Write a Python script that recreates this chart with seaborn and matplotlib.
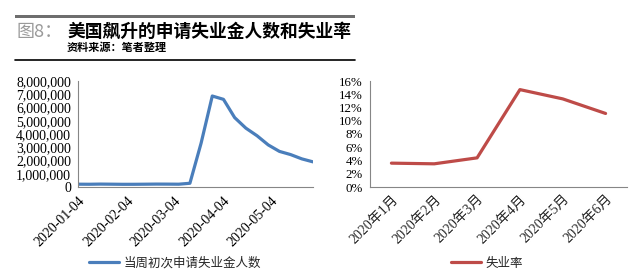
import numpy as np
import pandas as pd
import matplotlib
matplotlib.use('Agg')
import matplotlib.pyplot as plt
import matplotlib.dates as mdates
import matplotlib.ticker as mticker
from matplotlib.lines import Line2D
from matplotlib.patches import Rectangle
import seaborn as sns

# ---------------- data ----------------
claim_dates = ['2020-01-04', '2020-01-11', '2020-01-18', '2020-01-25', '2020-02-01',
               '2020-02-08', '2020-02-15', '2020-02-22', '2020-02-29', '2020-03-07',
               '2020-03-14', '2020-03-21', '2020-03-28', '2020-04-04', '2020-04-11',
               '2020-04-18', '2020-04-25', '2020-05-02', '2020-05-09', '2020-05-16',
               '2020-05-23', '2020-05-30']
claims = [212000, 207000, 220000, 212000, 203000, 204000, 211000, 220000, 217000,
          211000, 282000, 3307000, 6867000, 6615000, 5237000, 4442000, 3867000,
          3176000, 2687000, 2446000, 2123000, 1897000]
claims_label = '当周初次申请失业金人数'

months = ['2020年1月', '2020年2月', '2020年3月', '2020年4月', '2020年5月', '2020年6月']
unemployment_rate = [3.6, 3.5, 4.4, 14.7, 13.3, 11.1]
rate_label = '失业率'

title_prefix = '图8：'
title_text = '美国飙升的申请失业金人数和失业率'
source_text = '资料来源：笔者整理'

blue = '#4a7ebb'
red = '#be4b48'
axis_gray = '#868686'

# ---------------- style ----------------
sns.set_style('white')
plt.rcParams['font.family'] = ['Liberation Serif', 'Noto Sans CJK SC']
plt.rcParams['axes.unicode_minus'] = False

W, H = 640, 279
fig = plt.figure(figsize=(W / 100, H / 100), dpi=100)

def fx(px):
    return px / W

def fy(py):
    return 1 - py / H

# ---------------- left chart ----------------
df1 = pd.DataFrame({'date': pd.to_datetime(claim_dates), 'claims': claims})
ax1 = fig.add_axes([fx(78), fy(187), fx(313) - fx(78), fy(81) - fy(187)])
sns.lineplot(data=df1, x='date', y='claims', ax=ax1, color=blue, linewidth=2.3,
             label=claims_label)
ax1.set_xlim(df1['date'].iloc[0], df1['date'].iloc[-1])
ax1.set_ylim(0, 8000000)
ax1.yaxis.set_major_locator(mticker.MultipleLocator(1000000))
ax1.yaxis.set_major_formatter(mticker.StrMethodFormatter('{x:,.0f}'))
ax1.xaxis.set_major_locator(mdates.MonthLocator(bymonthday=4))
ax1.xaxis.set_major_formatter(mdates.DateFormatter('%Y-%m-%d'))
ax1.set_xlabel('')
ax1.set_ylabel('')

# ---------------- right chart ----------------
df2 = pd.DataFrame({'month': months, 'rate': unemployment_rate})
ax2 = fig.add_axes([fx(370), fy(187), fx(627) - fx(370), fy(81) - fy(187)])
sns.lineplot(data=df2, x='month', y='rate', ax=ax2, color=red, linewidth=2.3,
             label=rate_label, sort=False)
ax2.set_xlim(-0.5, len(months) - 0.5)
ax2.set_ylim(0, 16)
ax2.yaxis.set_major_locator(mticker.MultipleLocator(2))
ax2.yaxis.set_major_formatter(mticker.PercentFormatter(xmax=100, decimals=0))
ax2.xaxis.set_major_locator(mticker.FixedLocator(np.arange(len(months) + 1) - 0.5))
ax2.xaxis.set_major_formatter(mticker.NullFormatter())
ax2.xaxis.set_minor_locator(mticker.FixedLocator(np.arange(len(months))))
ax2.xaxis.set_minor_formatter(mticker.FixedFormatter(months))
ax2.set_xlabel('')
ax2.set_ylabel('')

for ax, fs in ((ax1, 10), (ax2, 9.3)):
    for s in ('top', 'right'):
        ax.spines[s].set_visible(False)
    for s in ('left', 'bottom'):
        ax.spines[s].set_color(axis_gray)
        ax.spines[s].set_linewidth(0.8)
    ax.tick_params(axis='both', which='major', direction='out', length=3, width=0.8,
                   color=axis_gray, labelsize=fs, pad=2, labelcolor='black')
    ax.tick_params(axis='x', which='minor', length=0, labelsize=10, pad=4)
    ax.grid(False)
    ax.set_facecolor('white')

plt.setp(ax1.get_xticklabels(), rotation=45, ha='right', rotation_mode='anchor')
for lab in ax1.get_xticklabels():
    lab.set_fontsize(10)
plt.setp(ax2.get_xticklabels(minor=True), rotation=45, ha='right', rotation_mode='anchor')

# ---------------- legends ----------------
for ax, cx in ((ax1, 175), (ax2, 487)):
    h, l = ax.get_legend_handles_labels()
    ax.legend(h, l, loc='center', bbox_to_anchor=(fx(cx), fy(263)),
              bbox_transform=fig.transFigure, frameon=False,
              prop={'family': ['Noto Sans CJK SC'], 'size': 9},
              handlelength=2.4, handletextpad=0.3, borderpad=0)

# ---------------- header ----------------
fig.add_artist(Rectangle((fx(15), fy(17.5)), fx(355) - fx(15), fy(14.5) - fy(17.5),
                         transform=fig.transFigure, facecolor='#6e6e6e',
                         edgecolor='none', linewidth=0, zorder=5))
fig.add_artist(Line2D([fx(15), fx(355)], [fy(60), fy(60)], color='black',
                      linewidth=1.2))
fig.text(fx(17), fy(32), title_prefix, color='#9a9a9a', fontsize=13,
         fontweight='medium', family=['Noto Sans CJK SC'], va='center', ha='left')
fig.text(fx(67), fy(32), title_text, color='black', fontsize=12.8,
         fontweight='bold', family=['Noto Sans CJK SC'], va='center', ha='left')
fig.text(fx(67), fy(47.5), source_text, color='black', fontsize=8,
         fontweight='bold', family=['Noto Sans CJK SC'], va='center', ha='left')

fig.savefig('out.png', dpi=100, facecolor='white')
